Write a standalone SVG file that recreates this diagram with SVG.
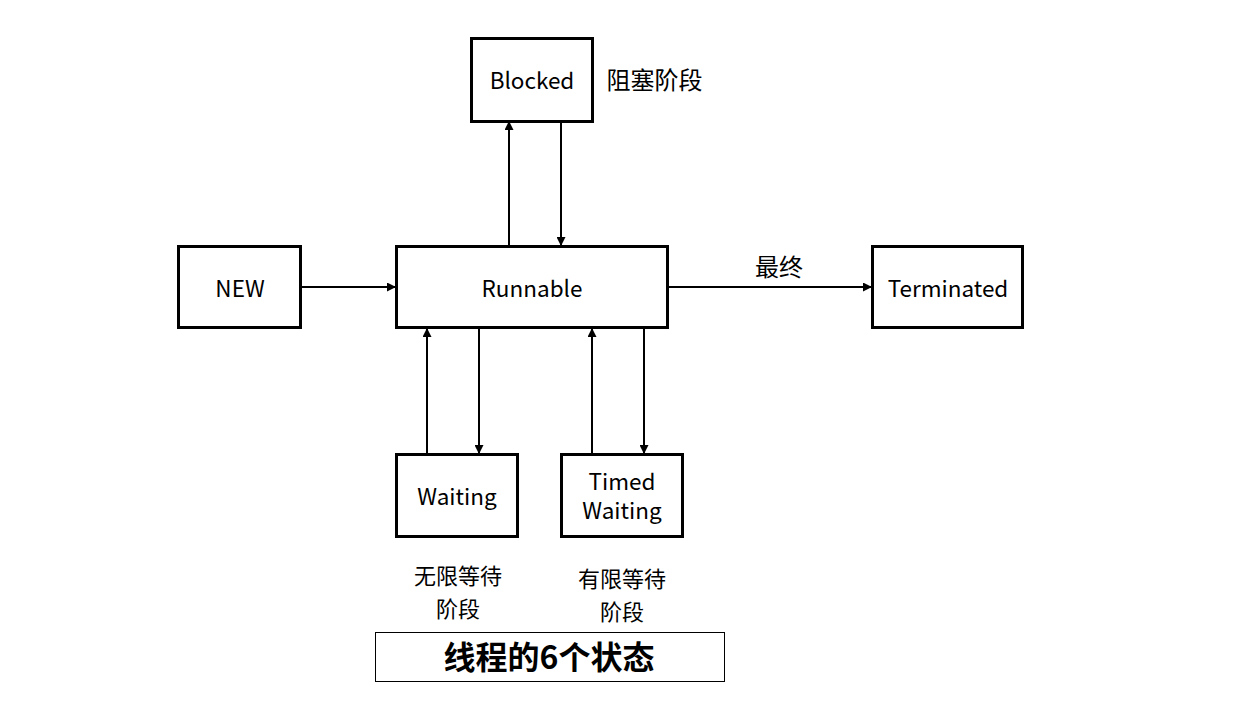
<svg xmlns="http://www.w3.org/2000/svg" width="1242" height="704" viewBox="0 0 1242 704">
<style>
.box{fill:#fff;stroke:#000;stroke-width:3}
.t{font-family:"Noto Sans CJK SC","Noto Sans",sans-serif;font-size:22.5px;fill:#000;text-anchor:middle;dominant-baseline:central}
.lbl{font-family:"Noto Sans CJK SC","Noto Sans",sans-serif;font-size:24px;fill:#000;text-anchor:middle;dominant-baseline:central}
.sm{font-size:22px}
.c{stroke:#000;stroke-width:2;fill:none;marker-end:url(#ah)}
</style>
<defs>
<marker id="ah" viewBox="0 0 10 10" refX="10" refY="5" markerWidth="4.5" markerHeight="4.5" orient="auto" markerUnits="strokeWidth">
<path d="M0,0 L10,5 L0,10 z" fill="#000"/>
</marker>
</defs>
<rect width="1242" height="704" fill="#fff"/>
<g id="connectors">
<line class="c" x1="509" y1="246" x2="509" y2="121"/>
<line class="c" x1="561" y1="121" x2="561" y2="246"/>
<line class="c" x1="300" y1="287" x2="396" y2="287"/>
<line class="c" x1="668" y1="287" x2="872" y2="287"/>
<line class="c" x1="427" y1="454" x2="427" y2="328"/>
<line class="c" x1="479" y1="328" x2="479" y2="454"/>
<line class="c" x1="592" y1="454" x2="592" y2="328"/>
<line class="c" x1="644" y1="328" x2="644" y2="454"/>
<text class="lbl" x="779" y="265">最终</text>
</g>
<g id="blocked">
<rect class="box" x="471.5" y="38.5" width="121" height="83"/>
<text class="t" x="532" y="79">Blocked</text>
<text class="lbl" x="654.5" y="78">阻塞阶段</text>
</g>
<g id="new">
<rect class="box" x="178.5" y="246.5" width="122" height="81"/>
<text class="t" x="240" y="287">NEW</text>
</g>
<g id="runnable">
<rect class="box" x="396.5" y="246.5" width="271" height="81"/>
<text class="t" x="532" y="287">Runnable</text>
</g>
<g id="terminated">
<rect class="box" x="872.5" y="246.5" width="150" height="81"/>
<text class="t" x="948" y="287">Terminated</text>
</g>
<g id="waiting">
<rect class="box" x="396.5" y="454.5" width="121" height="82"/>
<text class="t" x="457" y="495">Waiting</text>
<text class="lbl sm"><tspan x="458" y="574">无限等待</tspan><tspan x="458" y="607">阶段</tspan></text>
</g>
<g id="timed-waiting">
<rect class="box" x="561.5" y="454.5" width="121" height="82"/>
<text class="t"><tspan x="622" y="480">Timed</tspan><tspan x="622" y="509">Waiting</tspan></text>
<text class="lbl sm"><tspan x="622" y="577">有限等待</tspan><tspan x="622" y="610">阶段</tspan></text>
</g>
<g id="title">
<rect x="375.5" y="632.5" width="349" height="49" fill="#fff" stroke="#000" stroke-width="1"/>
<text x="549" y="655" font-family="'Noto Sans CJK SC','Noto Sans',sans-serif" font-size="32" font-weight="bold" text-anchor="middle" dominant-baseline="central">线程的6个状态</text>
</g>
</svg>
